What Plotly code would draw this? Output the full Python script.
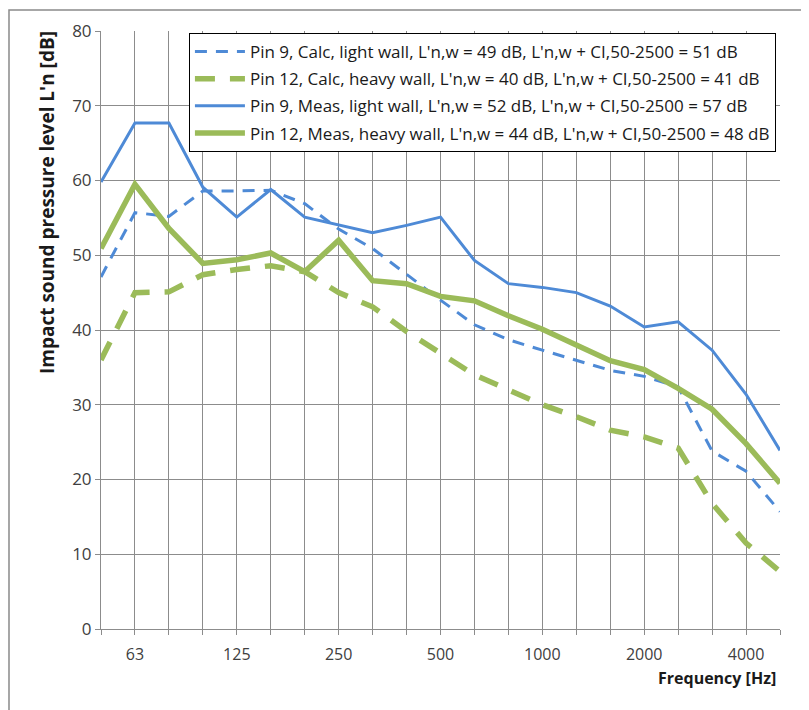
import plotly.graph_objects as go

# Third-octave bands (category positions 0..20)
bands = ["50", "63", "80", "100", "125", "160", "200", "250", "315", "400", "500",
         "630", "800", "1000", "1250", "1600", "2000", "2500", "3150", "4000", "5000"]
shown_labels = ["63", "125", "250", "500", "1000", "2000", "4000"]

pin9_calc = [47.1, 55.7, 55.2, 58.6, 58.6, 58.7, 56.9, 53.5, 50.9, 47.4, 44.0,
             40.7, 38.7, 37.3, 36.0, 34.6, 33.8, 32.4, 23.8, 21.1, 15.7]
pin12_calc = [36.0, 45.0, 45.1, 47.4, 48.1, 48.6, 47.8, 45.0, 43.1, 39.8, 36.9,
              34.0, 32.0, 30.0, 28.4, 26.6, 25.7, 24.2, 16.8, 11.5, 7.7]
pin9_meas = [59.8, 67.7, 67.7, 59.1, 55.1, 58.8, 55.1, 54.1, 53.0, 54.0, 55.1,
             49.3, 46.2, 45.7, 45.0, 43.2, 40.4, 41.1, 37.3, 31.4, 23.9]
pin12_meas = [50.9, 59.5, 53.6, 48.9, 49.4, 50.3, 47.8, 52.0, 46.6, 46.2, 44.5,
              43.9, 41.9, 40.1, 38.0, 35.9, 34.7, 32.2, 29.4, 24.8, 19.5]

names = [
    "Pin 9, Calc, light wall, L'n,w = 49 dB, L'n,w + CI,50-2500 = 51 dB",
    "Pin 12, Calc, heavy wall, L'n,w = 40 dB, L'n,w + CI,50-2500 = 41 dB",
    "Pin 9, Meas, light wall, L'n,w = 52 dB, L'n,w + CI,50-2500 = 57 dB",
    "Pin 12, Meas, heavy wall, L'n,w = 44 dB, L'n,w + CI,50-2500 = 48 dB",
]

BLUE = "#4E8AD6"
GREEN = "#9BBB59"
GRID = "#8C8C8C"
FONT = "Open Sans"

x = list(range(len(bands)))
ticktext = [b if b in shown_labels else "" for b in bands]

fig = go.Figure()
styles = [
    (pin9_calc, BLUE, 3, "12px,9px"),
    (pin12_calc, GREEN, 5.5, "20px,15px"),
    (pin9_meas, BLUE, 3, "solid"),
    (pin12_meas, GREEN, 5.5, "solid"),
]
for i, (vals, col, w, dash) in enumerate(styles):
    fig.add_trace(go.Scatter(
        x=x, y=vals, mode="lines", name=names[i], legendgroup=f"g{i}",
        line=dict(color=col, width=w, dash=dash),
    ))

# page body has an 8px margin; plot area target: x 101-780, y 31-629 in the screenshot
L, T = 93, 23
PW, PH = 679, 598
fig.update_layout(
    width=809, height=710,
    margin=dict(l=L, r=809 - L - PW, t=T, b=710 - T - PH),
    paper_bgcolor="white", plot_bgcolor="white",
    font=dict(family=FONT, size=15, color="#404040"),
    showlegend=True,
    legend=dict(
        x=0.994, xanchor="right", y=0.9966, yanchor="top",
        bgcolor="white", bordercolor="black", borderwidth=1,
        font=dict(family=FONT, size=17, color="#1a1a1a"),
        tracegroupgap=2, itemwidth=50,
    ),
    xaxis=dict(
        range=[0, 20], tickvals=x, ticktext=ticktext,
        showgrid=True, gridcolor=GRID, gridwidth=1,
        showline=True, linecolor=GRID, linewidth=1,
        ticks="outside", ticklen=5, tickcolor=GRID,
        ticklabelstandoff=6,
        tickfont=dict(family=FONT, size=16, color="#404040"),
        zeroline=False,
    ),
    yaxis=dict(
        range=[0, 80], dtick=10,
        showgrid=True, gridcolor=GRID, gridwidth=1,
        showline=True, linecolor=GRID, linewidth=1,
        ticks="outside", ticklen=5, tickcolor=GRID,
        tickfont=dict(family=FONT, size=17, color="#404040"),
        zeroline=False,
    ),
    shapes=[dict(
        type="rect", xref="paper", yref="paper",
        x0=-0.1355, x1=1.2, y0=-0.3, y1=1.0351,
        line=dict(color="#8A8A8A", width=1.5), fillcolor="rgba(0,0,0,0)", layer="below",
    )],
    annotations=[
        dict(text="<b>Frequency [Hz]</b>", xref="paper", yref="paper",
             x=0.997, y=-0.082, xanchor="right", yanchor="middle", showarrow=False,
             font=dict(family=FONT, size=16, color="#1a1a1a")),
        dict(text="<b>Impact sound pressure level L'n [dB]</b>", xref="paper", yref="paper",
             x=(47 - 101) / 679, y=(629 - 203) / 598, xanchor="center", yanchor="middle",
             textangle=-90, showarrow=False,
             font=dict(family=FONT, size=19, color="#1a1a1a")),
    ],
)

fig.write_html("out.html")
